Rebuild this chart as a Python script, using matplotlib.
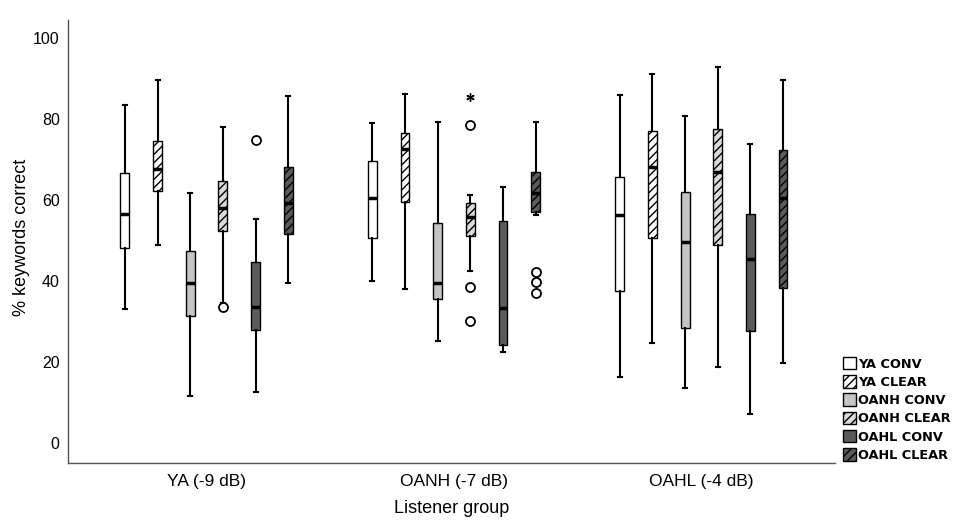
import matplotlib.pyplot as plt
from matplotlib.patches import Patch

plt.rcParams['font.family'] = ['Liberation Sans', 'DejaVu Sans']
plt.rcParams['hatch.linewidth'] = 1.0

groups = ["YA (-9 dB)", "OANH (-7 dB)", "OAHL (-4 dB)"]
conditions = ["YA CONV", "YA CLEAR", "OANH CONV", "OANH CLEAR", "OAHL CONV", "OAHL CLEAR"]

# box summaries: one row per listener group, one column per condition
whis_lo = [[33.1, 48.9, 11.6, 34.5, 12.6, 39.6],
           [40.0, 38.1, 25.2, 42.5, 22.5, 56.3],
           [16.2, 24.6, 13.7, 18.8, 7.1, 19.7]]
q1 = [[48.1, 62.2, 31.4, 52.3, 27.9, 51.6],
      [50.7, 59.6, 35.5, 51.1, 24.2, 57.1],
      [37.5, 50.7, 28.3, 48.9, 27.7, 38.2]]
med = [[56.5, 67.7, 39.4, 58.1, 33.6, 59.2],
       [60.4, 72.5, 39.6, 55.9, 33.4, 61.6],
       [56.2, 68.2, 49.7, 66.8, 45.4, 60.4]]
q3 = [[66.6, 74.6, 47.5, 64.7, 44.8, 68.1],
      [69.7, 76.5, 54.4, 59.2, 54.8, 67.0],
      [65.6, 77.0, 61.9, 77.4, 56.5, 72.3]]
whis_hi = [[83.5, 89.5, 61.8, 78.1, 55.2, 85.7],
           [78.9, 86.1, 79.2, 61.1, 63.3, 79.3],
           [85.9, 91.1, 80.8, 92.8, 73.7, 89.6]]
# (group, condition) -> values
outliers = {(0, 3): [33.7], (0, 4): [74.7],
            (1, 3): [78.5, 38.6, 30.1], (1, 5): [42.2, 39.7, 37.0]}
extremes = {(1, 3): [85.3]}

face_colors = ["white", "white", "#c4c4c4", "#dadada", "#5a5a5a", "#5a5a5a"]
hatches = [None, "////", None, "////", None, "////"]

OFFSET = 0.132
WIDTH = 0.036

stats, positions, fcs, hts = [], [], [], []
for g in range(len(groups)):
    for j in range(len(conditions)):
        stats.append(dict(med=med[g][j], q1=q1[g][j], q3=q3[g][j],
                          whislo=whis_lo[g][j], whishi=whis_hi[g][j],
                          fliers=outliers.get((g, j), [])))
        positions.append(g + (j - 2.5) * OFFSET)
        fcs.append(face_colors[j])
        hts.append(hatches[j])

fig = plt.figure(figsize=(9.55, 5.26), dpi=100)
ax = fig.add_axes([68 / 955, 1 - 463 / 526, (835 - 68) / 955, (463 - 20) / 526])

bp = ax.bxp(stats, positions=positions, widths=WIDTH, patch_artist=True,
            showfliers=True, capwidths=0.016,
            boxprops=dict(edgecolor="black", linewidth=1.0),
            medianprops=dict(color="black", linewidth=2.5),
            whiskerprops=dict(color="black", linewidth=1.5),
            capprops=dict(color="black", linewidth=1.5),
            flierprops=dict(marker="o", markerfacecolor="white",
                            markeredgecolor="black", markersize=6.5, markeredgewidth=1.3))
for box, fc, h in zip(bp["boxes"], fcs, hts):
    box.set_facecolor(fc)
    if h:
        box.set_hatch(h)

for (g, j), vals in extremes.items():
    x = g + (j - 2.5) * OFFSET
    for v in vals:
        ax.plot([x], [v], marker=(6, 2, 0), color="black", markersize=6,
                markeredgewidth=1.0, linestyle="none")

ax.set_xlim(-0.56, 2.54)
ax.set_ylim(-4.9, 104.4)
ax.set_yticks([0, 20, 40, 60, 80, 100])
ax.set_xticks(range(len(groups)))
ax.set_xticklabels(groups)
ax.tick_params(axis="both", length=0, colors="black")
ax.tick_params(axis="y", pad=6, labelsize=11.5)
ax.tick_params(axis="x", pad=8, labelsize=12.5)

for side in ["top", "right"]:
    ax.spines[side].set_visible(False)
for side in ["left", "bottom"]:
    ax.spines[side].set_color("#555555")
    ax.spines[side].set_linewidth(1.0)

ax.set_ylabel("% keywords correct", fontsize=13)
ax.set_xlabel("Listener group", fontsize=13, labelpad=8)
ax.yaxis.set_label_coords(-0.05, 0.51)

handles = [Patch(facecolor=face_colors[j], edgecolor="black", hatch=hatches[j], linewidth=1.0)
           for j in range(len(conditions))]
fig.legend(handles, conditions, loc="upper left", bbox_to_anchor=(843 / 955, 1 - 357 / 526),
           frameon=False, handlelength=1.0, handleheight=1.1, handletextpad=0.15,
           labelspacing=0.36, borderaxespad=0, borderpad=0,
           prop=dict(family="DejaVu Sans", weight="bold", size=9.3))

fig.savefig("out.png", dpi=100, facecolor="white")
